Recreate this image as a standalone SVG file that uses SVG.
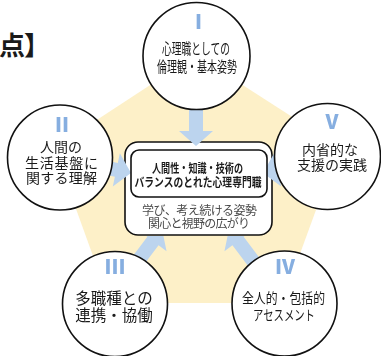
<svg xmlns="http://www.w3.org/2000/svg" width="381" height="356" viewBox="0 0 381 356">
<style>
.node circle{fill:#fff;stroke:#111;stroke-width:1.6}
.t{font-family:"Noto Sans CJK JP","Noto Sans",sans-serif;fill:#1a1a1a;text-anchor:middle;dominant-baseline:central}
.num{font-family:"Noto Sans CJK JP","Noto Sans",sans-serif;fill:#86AEE0;font-weight:900;text-anchor:middle;dominant-baseline:central;font-size:20px}
.arrow{fill:#BCD4EE}
.box{fill:#fff;stroke:#111;stroke-width:1.6}
.sub{fill:#4a4a4a}
</style>
<defs>
<path id="arr" d="M0,0 L-15,-17 L-15,-7 L-80,-7 L-80,7 L-15,7 L-15,17 Z"/>
<mask id="m" maskUnits="userSpaceOnUse" x="0" y="0" width="381" height="356">
<rect width="381" height="356" fill="#fff"/>
<rect x="131" y="150" width="136" height="47" rx="8" fill="#000"/>
<rect x="124" y="196" width="149" height="40" fill="#000"/>
</mask>
</defs>

<text class="t" font-weight="700" font-size="26" y="43"><tspan x="12">点</tspan><tspan x="37">】</tspan></text>

<polygon points="196,55 339,147 282,303 110,303 54,148" fill="#FDF0C8"/>

<g id="center">
<rect class="box" x="125" y="142" width="147" height="93" rx="13"/>
</g>

<g id="connectors" mask="url(#m)">
<use href="#arr" class="arrow" transform="translate(196,146) rotate(90)"/>
<use href="#arr" class="arrow" transform="translate(131,173) rotate(12)"/>
<use href="#arr" class="arrow" transform="translate(263,173) rotate(168)"/>
<use href="#arr" class="arrow" transform="translate(162,229) rotate(-53)"/>
<use href="#arr" class="arrow" transform="translate(229,229) rotate(-127)"/>
</g>

<g id="center-inner">
<rect class="box" x="131" y="150" width="136" height="47" rx="8"/>
<text class="t" font-weight="700" font-size="12" x="197.5" y="167.5" textLength="91" lengthAdjust="spacingAndGlyphs">人間性・知識・技術の</text>
<text class="t" font-weight="700" font-size="12" x="198" y="181.5" textLength="127" lengthAdjust="spacingAndGlyphs">バランスのとれた心理専門職</text>
<text class="t sub" font-size="12" x="199.5" y="209.5" textLength="115" lengthAdjust="spacing">学び、考え続ける姿勢</text>
<text class="t sub" font-size="12" x="199" y="222.5" textLength="102" lengthAdjust="spacing">関心と視野の広がり</text>
</g>

<g id="node1" class="node">
<circle cx="196.5" cy="56" r="53.5"/>
<text class="num" x="198.5" y="20">Ⅰ</text>
<text class="t" font-size="15" x="196" y="47.5" textLength="68" lengthAdjust="spacingAndGlyphs">心理職としての</text>
<text class="t" font-size="15" x="197" y="65" textLength="80" lengthAdjust="spacingAndGlyphs">倫理観・基本姿勢</text>
</g>

<g id="node2" class="node">
<circle cx="60" cy="157.5" r="52.5"/>
<text class="num" x="62" y="123.5">Ⅱ</text>
<text class="t" font-size="14" x="61" y="145.5" textLength="42" lengthAdjust="spacing">人間の</text>
<text class="t" font-size="14" x="61.5" y="161.5" textLength="73" lengthAdjust="spacing">生活基盤に</text>
<text class="t" font-size="14" x="61.5" y="177" textLength="71" lengthAdjust="spacing">関する理解</text>
</g>

<g id="node5" class="node">
<circle cx="327.5" cy="156.5" r="53"/>
<text class="num" x="332" y="120">Ⅴ</text>
<text class="t" font-size="14" x="330" y="148.5">内省的な</text>
<text class="t" font-size="14" x="332" y="164">支援の実践</text>
</g>

<g id="node3" class="node">
<circle cx="115" cy="304" r="52.5"/>
<text class="num" x="115" y="265.5">Ⅲ</text>
<text class="t" font-size="15.5" x="114" y="296.5">多職種との</text>
<text class="t" font-size="15.5" x="114" y="314">連携・協働</text>
</g>

<g id="node4" class="node">
<circle cx="284.5" cy="303.5" r="52.5"/>
<text class="num" x="285" y="265.5">Ⅳ</text>
<text class="t" font-size="14" x="283.5" y="297" textLength="83" lengthAdjust="spacingAndGlyphs">全人的・包括的</text>
<text class="t" font-size="14" x="284" y="313.5" textLength="62" lengthAdjust="spacingAndGlyphs">アセスメント</text>
</g>
</svg>
